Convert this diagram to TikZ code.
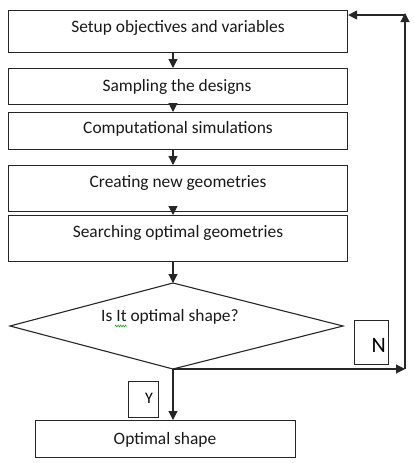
\documentclass[tikz,border=0pt]{standalone}
\usepackage{fontspec}
\setmainfont{Carlito}
\usetikzlibrary{arrows.meta,decorations.pathmorphing}
\begin{document}
\begin{tikzpicture}[x=1pt,y=-1pt,
  line/.style={draw=black!85,line width=1.1pt},
  arr/.style={line,-{Triangle[length=9pt,width=9pt]}},
  box/.style={line,rectangle,inner sep=0pt,anchor=north west},
  txt/.style={inner sep=0pt,font=\fontsize{17.4}{19}\selectfont,text=black!90},
]
\useasboundingbox (0,0) rectangle (414,463);
% boxes
\node[box,minimum width=339pt,minimum height=42pt] (b1) at (8,10) {};
\node[box,minimum width=339pt,minimum height=36pt] (b2) at (8,68) {};
\node[box,minimum width=339pt,minimum height=37pt] (b3) at (8,112) {};
\node[box,minimum width=339pt,minimum height=46pt] (b4) at (8,165) {};
\node[box,minimum width=339pt,minimum height=46pt] (b5) at (8,215) {};
\node[box,minimum width=260pt,minimum height=37pt] (b6) at (35,420) {};
% texts
\node[txt] (t1) at (178,28) {Setup objectives and variables};
\node[txt] (t2) at (177,87) {Sampling the designs};
\node[txt] (t3) at (178,129) {Computational simulations};
\node[txt] (t4) at (178,183) {Creating new geometries};
\node[txt] (t5) at (178,233) {Searching optimal geometries};
\node[txt] (t6) at (165,440) {Optimal shape};
% diamond
\coordinate (dl) at (10,326);
\coordinate (dt) at (173,283);
\coordinate (dr) at (343,326);
\coordinate (db) at (173,369);
\draw[line] (dl) -- (dt) -- (dr) -- (db) -- cycle;
\node[txt] (t7) at (170,317) {Is It optimal shape?};
\draw[green!60!black,line width=0.5pt,decorate,decoration={zigzag,segment length=2.5pt,amplitude=1pt}] (115,326) -- (127,326);
% label boxes
\node[box,minimum width=34pt,minimum height=44pt] (nb) at (354,320) {};
\node[inner sep=0pt,font=\fontsize{22}{24}\selectfont,anchor=base east] (nt) at (386,352) {N};
\node[box,minimum width=30pt,minimum height=36pt] (yb) at (128,381) {};
\node[inner sep=0pt,font=\fontsize{16}{18}\selectfont,anchor=base east] (yt) at (153,403) {Y};
% arrows
\draw[arr] (b1.south -| dt) -- (b2.north -| dt);
\draw[arr] (b2.south -| dt) -- (b3.north -| dt);
\draw[arr] (b3.south -| dt) -- (b4.north -| dt);
\draw[arr] (b4.south -| dt) -- (b5.north -| dt);
\draw[arr] (b5.south -| dt) -- (dt);
\draw[arr] (db) -- (b6.north -| db);
\coordinate (c1) at (405,369);
\coordinate (c2) at (405,13);
\coordinate (c3) at (405,15);
\draw[arr] (db) -- (c1);
\draw[arr] (c1) -- (c2);
\draw[arr] (c3) -- (b1.east |- c3);
\end{tikzpicture}
\end{document}
